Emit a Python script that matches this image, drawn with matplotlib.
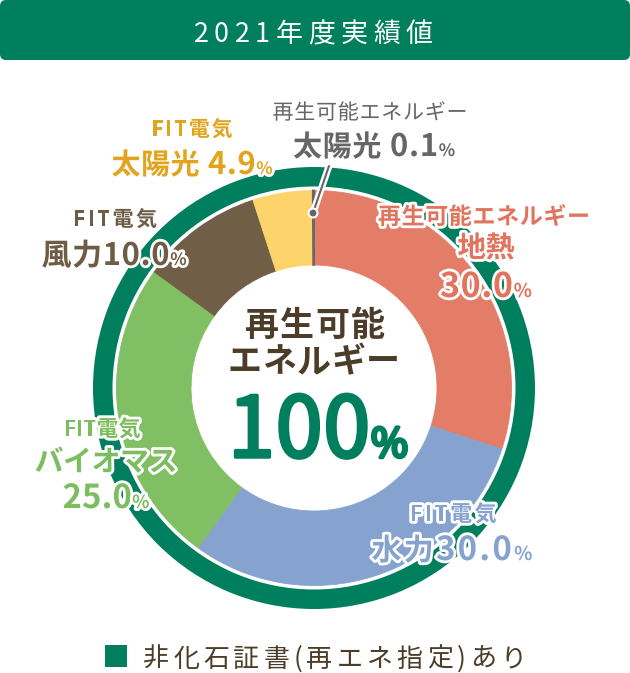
import matplotlib
matplotlib.use("Agg")
import matplotlib.pyplot as plt
from matplotlib.patches import Wedge, FancyBboxPatch, Rectangle, Circle
import matplotlib.patheffects as pe

plt.rcParams['font.family'] = ['Noto Sans CJK JP', 'DejaVu Sans']

# data (2021 renewable energy mix, %)
sources = ['地熱', '水力', 'バイオマス', '風力', '太陽光(FIT)', '太陽光']
shares = [30.0, 30.0, 25.0, 10.0, 4.9, 0.1]
colors = ['#E37D67', '#86A3D0', '#80BF63', '#705E46', '#FDD46C', '#666666']
title = '2021年度実績値'
legend_text = '非化石証書(再エネ指定)あり'

GREEN = '#007F5E'
BROWN = '#4B3D27'

W, H = 630, 673
fig = plt.figure(figsize=(W / 100, H / 100), dpi=100)
ax = fig.add_axes([0, 0, 1, 1])
renderer = fig.canvas.get_renderer()

cx, cy = 314, 388
r_out, r_in = 197.5, 123

# outer ring (certificate)
ax.add_patch(Wedge((cx, cy), 221, 0, 360, width=19.5, color=GREEN, lw=0))

wedges, _ = ax.pie(shares, colors=colors, startangle=-90, counterclock=True,
                   radius=r_out, center=(cx, cy),
                   wedgeprops=dict(width=r_out - r_in, linewidth=0.6))
for w, c in zip(wedges, colors):
    w.set_edgecolor(c)
wedges[-1].set_linewidth(1.3)

# title bar
ax.add_patch(FancyBboxPatch((0, 0), W, 60, boxstyle='round,pad=0,rounding_size=6',
                            fc=GREEN, ec='none'))

# leader line for the 0.1% slice
stroke = [pe.withStroke(linewidth=5, foreground='white')]
ax.plot([313, 329], [213, 166], color='#666666', lw=1.5, solid_capstyle='round',
        path_effects=stroke, zorder=5)
ax.add_patch(Circle((313, 213), 4.5, fc='#666666', ec='white', lw=1.5, zorder=6))


def label(x, y, parts, color, width=None, gap=2.0, ha='center', outline=True,
          thicken=0):
    """Draw a line of text made of (string, size_px, weight) parts, baseline at y.
    If width is given, letter spacing is chosen so the line spans that width."""
    items = []
    for s, px, wt in parts:
        for ch in s:
            if ch == ' ':
                items.append((None, px * 0.25))
                continue
            t = ax.text(0, y, ch, fontsize=px * 0.72, fontweight=wt, color=color,
                        va='baseline', ha='left', zorder=8)
            if outline:
                t.set_path_effects([pe.withStroke(linewidth=4, foreground='white')])
            elif thicken:
                t.set_path_effects([pe.withStroke(linewidth=thicken, foreground=color)])
            items.append((t, t.get_window_extent(renderer).width))
    n = len(items)
    total = sum(w for _, w in items)
    if width is not None and n > 1:
        gap = (width - total) / (n - 1)
    span = total + gap * (n - 1)
    x0 = x - span / 2 if ha == 'center' else x
    for t, w in items:
        if t is not None:
            t.set_x(x0)
        x0 += w + gap


label(313, 42, [(title, 27, 'normal')], 'white', 239, outline=False)

# 再エネ 太陽光 0.1%
label(370, 119, [('再生可能エネルギー', 21, 'normal')], '#666666', 195)
label(374, 156, [('太陽光 ', 29, 'bold'), ('0.1', 31, 'bold'), ('%', 17, 'bold')],
      '#666666', 162)

# FIT 太陽光
label(192, 136, [('FIT電気', 21, 'bold')], '#E2A41C', 81)
label(192, 174, [('太陽光 ', 29, 'bold'), ('4.9', 31, 'bold'), ('%', 17, 'bold')],
      '#E2A41C', 161)

# FIT 風力
label(115, 226, [('FIT電気', 21, 'bold')], '#6E5D45', 84)
label(114, 265, [('風力', 30, 'bold'), ('10.0', 31, 'bold'), ('%', 17, 'bold')],
      '#6E5D45', 145)

# 地熱
label(484, 224, [('再生可能エネルギー', 23, 'bold')], '#E2735C', 212)
label(486, 257, [('地熱', 29, 'bold')], '#E2735C', 57)
label(486, 297, [('30.0', 34, 'bold'), ('%', 19, 'bold')], '#E2735C', 92)

# バイオマス
label(102, 436, [('FIT電気', 22, 'bold')], '#7CBE5F', 77)
label(106, 471, [('バイオマス', 29, 'bold')], '#7CBE5F', 143)
label(106, 508, [('25.0', 33, 'bold'), ('%', 18, 'bold')], '#7CBE5F', 87)

# 水力
label(453, 521, [('FIT電気', 22, 'bold')], '#86A3D0', 87)
label(452, 560, [('水力', 30, 'bold'), ('30.0', 33, 'bold'), ('%', 19, 'bold')],
      '#86A3D0', 161)

# centre
label(315, 336, [('再生可能', 34, 'bold')], BROWN, 140, outline=False)
label(314, 372, [('エネルギー', 34, 'bold')], BROWN, 172, outline=False)
label(318, 457, [('100', 84, 'normal'), ('%', 40, 'normal')], GREEN, gap=1,
      outline=False, thicken=2.5)

# legend
ax.add_patch(Rectangle((105, 645), 22, 22, fc=GREEN, ec='none'))
label(143, 667, [(legend_text, 26, 'normal')], BROWN, 383, ha='left', outline=False)

ax.set_xlim(0, W)
ax.set_ylim(H, 0)
ax.set_aspect('equal')
ax.set_axis_off()
fig.savefig('out.png', dpi=100, facecolor='white')
